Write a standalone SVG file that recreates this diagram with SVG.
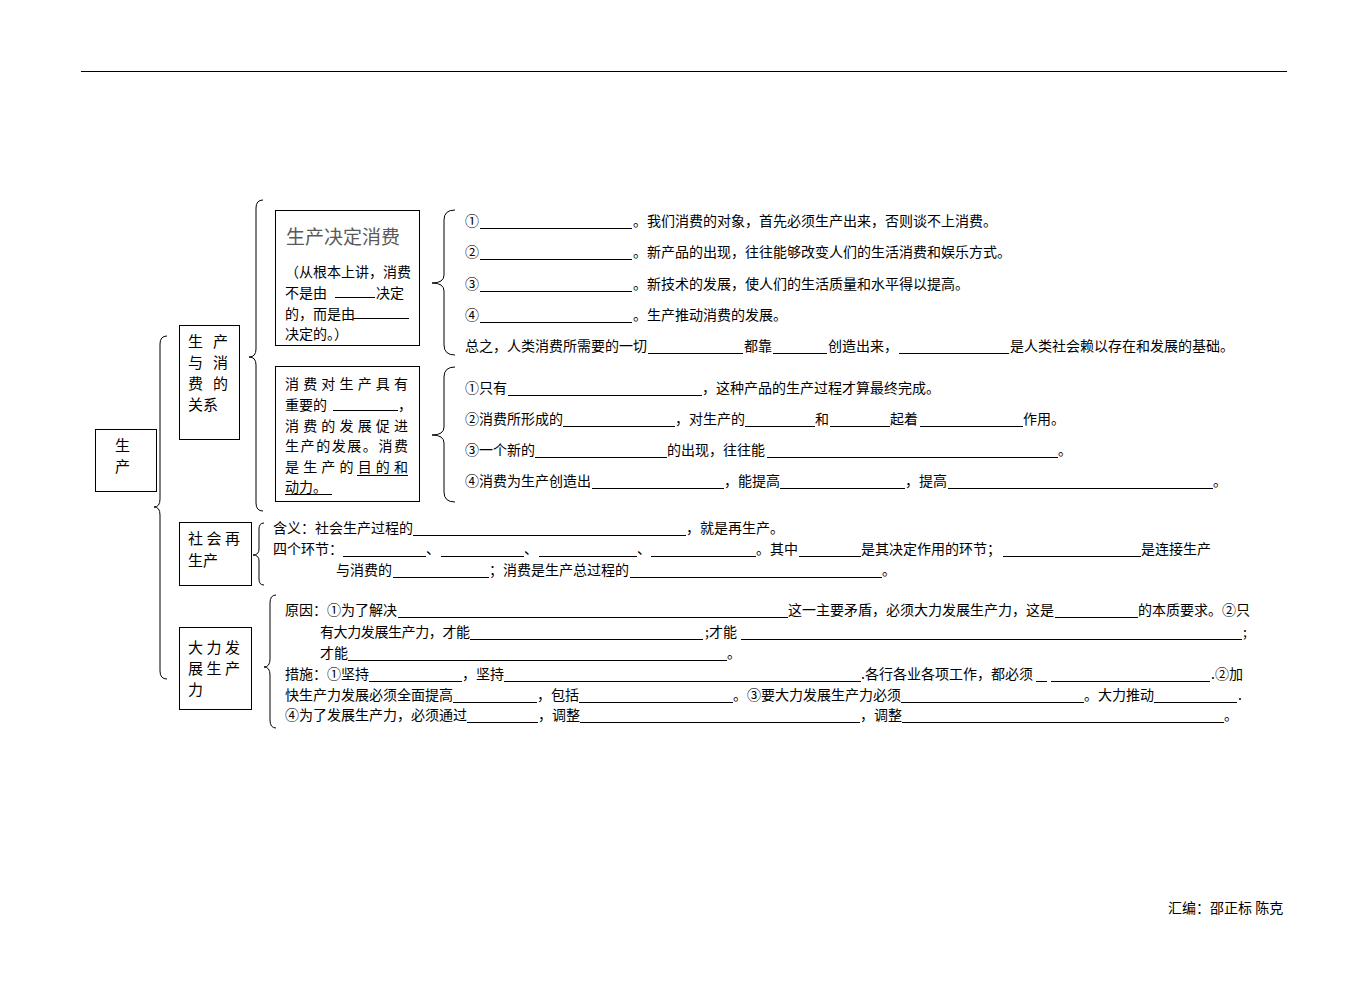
<svg xmlns="http://www.w3.org/2000/svg" width="1361" height="983" viewBox="0 0 1361 983">
<style>
.t{font-family:"Noto Sans CJK SC","Noto Sans",sans-serif;font-size:14px;fill:#000}
.n{font-family:"Noto Sans CJK SC","Noto Sans",sans-serif;font-size:15px;fill:#000}
.ttl{font-family:"Noto Sans CJK SC","Noto Sans",sans-serif;font-size:19px;fill:#5a5a5a}
.box{fill:#fff;stroke:#000;stroke-width:1}
.br{fill:none;stroke:#000;stroke-width:1}
.u{stroke:#000;stroke-width:1}
</style>
<rect x="0" y="0" width="1361" height="983" fill="#fff"/>
<line x1="81" y1="71.5" x2="1287" y2="71.5" class="u"/>

<g id="connectors">
<path class="br" d="M167,336 Q160,336 160,344 L160,499 Q160,507 154,507 Q160,507 160,515 L160,671 Q160,679 167,679"/>
<path class="br" d="M263,200 Q256,200 256,208 L256,349 Q256,357 249,357 Q256,357 256,365 L256,503 Q256,511 263,511"/>
<path class="br" d="M455,210 Q444,210 444,220 L444,275 Q444,283 432,283 Q444,283 444,291 L444,345 Q444,355 455,355"/>
<path class="br" d="M455,367 Q444,367 444,377 L444,427 Q444,435 432,435 Q444,435 444,443 L444,492 Q444,502 455,502"/>
<path class="br" d="M264,523 Q259,523 259,529 L259,549 Q259,555 253,555 Q259,555 259,561 L259,579 Q259,585 264,585"/>
<path class="br" d="M276,595 Q270,595 270,603 L270,659 Q270,667 264,667 Q270,667 270,675 L270,720 Q270,728 276,728"/>
</g>

<g id="node-shengchan">
<rect class="box" x="95.5" y="429.5" width="61" height="62"/>
<text class="n" x="115" y="451"><tspan x="115">生</tspan><tspan x="115" dy="21">产</tspan></text>
</g>

<g id="node-guanxi">
<rect class="box" x="179.5" y="325.5" width="60" height="114"/>
<text class="n" x="188" y="347"><tspan x="188">生</tspan><tspan x="213">产</tspan><tspan x="188" dy="21">与</tspan><tspan x="213">消</tspan><tspan x="188" dy="21">费</tspan><tspan x="213">的</tspan><tspan x="188" dy="21">关系</tspan></text>
</g>

<g id="node-juedin">
<rect class="box" x="275.5" y="210.5" width="144" height="135"/>
<text class="ttl" x="286" y="244">生产决定消费</text>
<text class="t" x="285" y="277">（从根本上讲，消费</text>
<text class="t" x="285" y="298">不是由</text><line class="u" x1="335" y1="297.5" x2="375" y2="297.5"/><text class="t" x="376" y="298">决定</text>
<text class="t" x="285" y="319">的，而是由</text><line class="u" x1="353" y1="318.5" x2="409" y2="318.5"/>
<text class="t" x="285" y="339">决定的。）</text>
</g>

<g id="node-cujin">
<rect class="box" x="275.5" y="366.5" width="144" height="135"/>
<text class="t" x="285" y="389" textLength="123" lengthAdjust="spacing">消费对生产具有</text>
<text class="t" x="285" y="410">重要的</text><line class="u" x1="333" y1="410.5" x2="398" y2="410.5"/><text class="t" x="398" y="410">，</text>
<text class="t" x="285" y="431" textLength="123" lengthAdjust="spacing">消费的发展促进</text>
<text class="t" x="285" y="451" textLength="123" lengthAdjust="spacing">生产的发展。消费</text>
<text class="t" x="285" y="472" textLength="123" lengthAdjust="spacing">是生产的目的和</text><line class="u" x1="357" y1="475.5" x2="408" y2="475.5"/>
<text class="t" x="285" y="492">动力。</text><line class="u" x1="285" y1="494.5" x2="332" y2="494.5"/>
</g>

<g id="text-juedin">
<text class="t" x="465" y="226">①</text><line class="u" x1="480" y1="228.5" x2="632" y2="228.5"/><text class="t" x="633" y="226">。我们消费的对象，首先必须生产出来，否则谈不上消费。</text>
<text class="t" x="465" y="257">②</text><line class="u" x1="480" y1="259.5" x2="632" y2="259.5"/><text class="t" x="633" y="257">。新产品的出现，往往能够改变人们的生活消费和娱乐方式。</text>
<text class="t" x="465" y="289">③</text><line class="u" x1="480" y1="291.5" x2="632" y2="291.5"/><text class="t" x="633" y="289">。新技术的发展，使人们的生活质量和水平得以提高。</text>
<text class="t" x="465" y="320">④</text><line class="u" x1="480" y1="322.5" x2="632" y2="322.5"/><text class="t" x="633" y="320">。生产推动消费的发展。</text>
<text class="t" x="465" y="351">总之，人类消费所需要的一切</text><line class="u" x1="648" y1="353.5" x2="743" y2="353.5"/><text class="t" x="744" y="351">都靠</text><line class="u" x1="773" y1="353.5" x2="827" y2="353.5"/><text class="t" x="828" y="351">创造出来，</text><line class="u" x1="899" y1="353.5" x2="1009" y2="353.5"/><text class="t" x="1010" y="351">是人类社会赖以存在和发展的基础。</text>
</g>

<g id="text-cujin">
<text class="t" x="465" y="393">①只有</text><line class="u" x1="508" y1="395.5" x2="702" y2="395.5"/><text class="t" x="702" y="393">，这种产品的生产过程才算最终完成。</text>
<text class="t" x="465" y="424">②消费所形成的</text><line class="u" x1="563" y1="426.5" x2="675" y2="426.5"/><text class="t" x="675" y="424">，对生产的</text><line class="u" x1="745" y1="426.5" x2="815" y2="426.5"/><text class="t" x="815" y="424">和</text><line class="u" x1="830" y1="426.5" x2="890" y2="426.5"/><text class="t" x="890" y="424">起着</text><line class="u" x1="920" y1="426.5" x2="1023" y2="426.5"/><text class="t" x="1023" y="424">作用。</text>
<text class="t" x="465" y="455">③一个新的</text><line class="u" x1="535" y1="457.5" x2="667" y2="457.5"/><text class="t" x="667" y="455">的出现，往往能</text><line class="u" x1="767" y1="457.5" x2="1058" y2="457.5"/><text class="t" x="1058" y="455">。</text>
<text class="t" x="465" y="486">④消费为生产创造出</text><line class="u" x1="592" y1="488.5" x2="724" y2="488.5"/><text class="t" x="724" y="486">，能提高</text><line class="u" x1="780" y1="488.5" x2="905" y2="488.5"/><text class="t" x="905" y="486">，提高</text><line class="u" x1="948" y1="488.5" x2="1213" y2="488.5"/><text class="t" x="1213" y="486">。</text>
</g>

<g id="node-zaishengchan">
<rect class="box" x="179.5" y="522.5" width="72" height="63"/>
<text class="n" x="188" y="544"><tspan x="188" textLength="52" lengthAdjust="spacing">社会再</tspan><tspan x="188" dy="22">生产</tspan></text>
</g>

<g id="text-zaishengchan">
<text class="t" x="273" y="533">含义：社会生产过程的</text><line class="u" x1="413" y1="535.5" x2="686" y2="535.5"/><text class="t" x="686" y="533">，就是再生产。</text>
<text class="t" x="273" y="554">四个环节：</text><line class="u" x1="343" y1="556.5" x2="426" y2="556.5"/><text class="t" x="426" y="554">、</text><line class="u" x1="441" y1="556.5" x2="524" y2="556.5"/><text class="t" x="524" y="554">、</text><line class="u" x1="539" y1="556.5" x2="637" y2="556.5"/><text class="t" x="637" y="554">、</text><line class="u" x1="651" y1="556.5" x2="756" y2="556.5"/><text class="t" x="756" y="554">。其中</text><line class="u" x1="799" y1="556.5" x2="861" y2="556.5"/><text class="t" x="861" y="554">是其决定作用的环节；</text><line class="u" x1="1003" y1="556.5" x2="1141" y2="556.5"/><text class="t" x="1141" y="554">是连接生产</text>
<text class="t" x="336" y="575">与消费的</text><line class="u" x1="393" y1="577.5" x2="489" y2="577.5"/><text class="t" x="489" y="575">；消费是生产总过程的</text><line class="u" x1="630" y1="577.5" x2="882" y2="577.5"/><text class="t" x="882" y="575">。</text>
</g>

<g id="node-fazhan">
<rect class="box" x="179.5" y="627.5" width="72" height="82"/>
<text class="n" x="188" y="653"><tspan x="188" textLength="52" lengthAdjust="spacing">大力发</tspan><tspan x="188" dy="21" textLength="52" lengthAdjust="spacing">展生产</tspan><tspan x="188" dy="21">力</tspan></text>
</g>

<g id="text-fazhan">
<text class="t" x="285" y="615">原因：①为了解决</text><line class="u" x1="398" y1="617.5" x2="788" y2="617.5"/><text class="t" x="788" y="615">这一主要矛盾，必须大力发展生产力，这是</text><line class="u" x1="1055" y1="617.5" x2="1138" y2="617.5"/><text class="t" x="1138" y="615">的本质要求。②只</text>
<text class="t" x="320" y="637" textLength="150" lengthAdjust="spacing">有大力发展生产力，才能</text><line class="u" x1="470" y1="639.5" x2="703" y2="639.5"/><text class="t" x="705" y="637">;才能</text><line class="u" x1="741" y1="639.5" x2="1242" y2="639.5"/><text class="t" x="1243" y="637">;</text>
<text class="t" x="320" y="658">才能</text><line class="u" x1="348" y1="660.5" x2="727" y2="660.5"/><text class="t" x="727" y="658">。</text>
<text class="t" x="285" y="679">措施：①坚持</text><line class="u" x1="369" y1="681.5" x2="462" y2="681.5"/><text class="t" x="462" y="679">，坚持</text><line class="u" x1="504" y1="681.5" x2="861" y2="681.5"/><text class="t" x="861" y="679">.各行各业各项工作，都必须</text><line class="u" x1="1036" y1="681.5" x2="1047" y2="681.5"/><line class="u" x1="1051" y1="681.5" x2="1210" y2="681.5"/><text class="t" x="1211" y="679">.②加</text>
<text class="t" x="285" y="700">快生产力发展必须全面提高</text><line class="u" x1="453" y1="702.5" x2="537" y2="702.5"/><text class="t" x="537" y="700">，包括</text><line class="u" x1="579" y1="702.5" x2="733" y2="702.5"/><text class="t" x="733" y="700">。③要大力发展生产力必须</text><line class="u" x1="901" y1="702.5" x2="1084" y2="702.5"/><text class="t" x="1084" y="700">。大力推动</text><line class="u" x1="1154" y1="702.5" x2="1237" y2="702.5"/><text class="t" x="1238" y="700">.</text>
<text class="t" x="285" y="720">④为了发展生产力，必须通过</text><line class="u" x1="467" y1="722.5" x2="538" y2="722.5"/><text class="t" x="538" y="720">，调整</text><line class="u" x1="580" y1="722.5" x2="860" y2="722.5"/><text class="t" x="860" y="720">，调整</text><line class="u" x1="902" y1="722.5" x2="1224" y2="722.5"/><text class="t" x="1224" y="720">。</text>
</g>

<text class="t" x="1168" y="913">汇编：邵正标 陈克</text>
</svg>
